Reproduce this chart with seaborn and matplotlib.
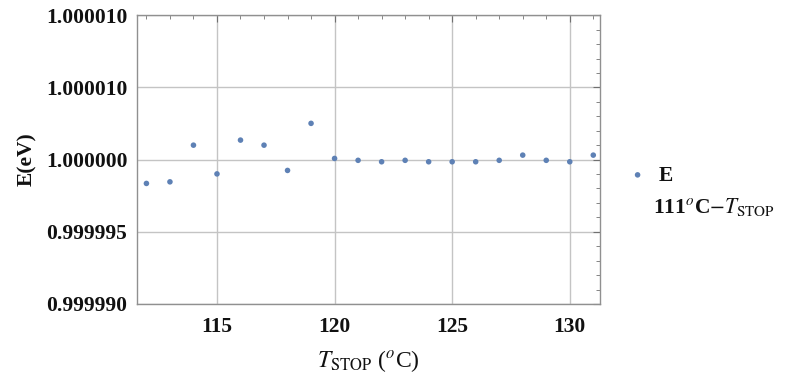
import numpy as np
import pandas as pd
import matplotlib
matplotlib.use('Agg')
import matplotlib.pyplot as plt
from matplotlib.ticker import MultipleLocator, FixedLocator, FixedFormatter
import seaborn as sns

# data (deviation from 1 in units of 1e-6 eV)
t_stop = [112, 113, 114, 115, 116, 117, 118, 119, 120, 121,
          122, 123, 124, 125, 126, 127, 128, 129, 130, 131]
dev_ppm = [-1.65, -1.54, 1.00, -0.99, 1.35, 1.00, -0.75, 2.51, 0.08, -0.05,
           -0.15, -0.05, -0.15, -0.15, -0.15, -0.05, 0.31, -0.05, -0.15, 0.31]
y_ticks = [0.999990, 0.999995, 1.000000, 1.000005, 1.000010]
y_tick_labels = ['0.999990', '0.999995', '1.000000', '1.000010', '1.000010']
x_ticks = [115, 120, 125, 130]

df = pd.DataFrame({'T': t_stop, 'E': 1 + np.array(dev_ppm) * 1e-6})

sns.set_style('white')
plt.rcParams['font.family'] = ['Liberation Serif', 'DejaVu Serif']
plt.rcParams['mathtext.fontset'] = 'stix'
plt.rcParams['text.color'] = '#111111'
plt.rcParams['axes.labelcolor'] = '#111111'
plt.rcParams['xtick.labelcolor'] = '#111111'
plt.rcParams['ytick.labelcolor'] = '#111111'

fig = plt.figure(figsize=(7.92, 3.8), dpi=100)
ax = fig.add_axes([0.173, 0.2, 0.585, 0.76])

sns.scatterplot(data=df, x='T', y='E', ax=ax, color='#5e81b5', s=16,
                edgecolor='none', label='E', zorder=3)

ax.set_xlim(111.6, 131.3)
ax.set_ylim(0.99999, 1.00001)
ax.yaxis.set_major_locator(FixedLocator(y_ticks))
ax.yaxis.set_major_formatter(FixedFormatter(y_tick_labels))
ax.yaxis.set_minor_locator(MultipleLocator(1e-6))
ax.xaxis.set_major_locator(FixedLocator(x_ticks))
ax.xaxis.set_minor_locator(MultipleLocator(1))

ax.grid(True, which='major', color='#c4c4c4', linewidth=1.0)
for s in ax.spines.values():
    s.set_color('#909090')
    s.set_linewidth(1.0)
ax.tick_params(which='both', direction='in', top=True, right=True,
               color='#707070')
ax.tick_params(which='major', length=5, labelsize=15.5)
ax.tick_params(which='minor', length=3)
ax.tick_params(axis='x', pad=9)
ax.tick_params(axis='y', pad=7)
for lab in ax.get_xticklabels() + ax.get_yticklabels():
    lab.set_fontweight('bold')

ax.set_xlabel(r'$T_{\mathrm{STOP}}$ ($^{o}$C)', fontsize=17, labelpad=8)
ax.set_ylabel('E(eV)', fontsize=15.5, fontweight='bold', labelpad=6)

leg = ax.legend(loc='center left', bbox_to_anchor=(1.02, 0.445), frameon=False,
                handletextpad=0.6, handlelength=0.8, markerscale=1.0,
                prop={'size': 15.5, 'weight': 'bold'})
fig.text(0.824, 0.455, r'111$^{o}$C$-T_{\mathrm{STOP}}$', fontsize=15.5,
         fontweight='bold', va='center')

fig.savefig('out.png', dpi=100)
